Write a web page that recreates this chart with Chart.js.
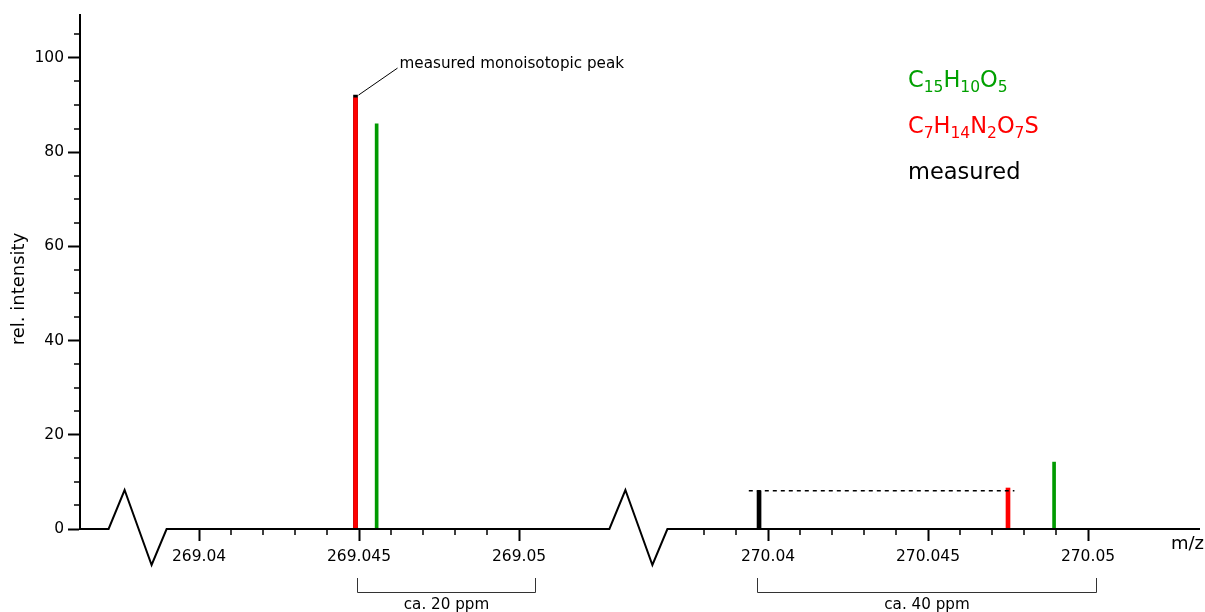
<!DOCTYPE html>
<html>
<head>
<meta charset="utf-8">
<script src="https://cdn.jsdelivr.net/npm/chart.js@4/dist/chart.umd.min.js"></script>
<style>
  body { margin: 0; background: #fff; }
  canvas { display: block; }
</style>
</head>
<body>
<canvas id="spectrum" width="1205" height="612"></canvas>
<script>
// peaks (m/z, relative intensity)
const measuredMz = [269.04489, 270.03972];
const measuredInt = [92.1, 8.1];
const redMz = [269.04489, 270.04750];   // C7H14N2O7S
const redInt = [91.5, 8.7];
const greenMz = [269.04555, 270.04894]; // C15H10O5
const greenInt = [86.0, 14.2];

// axis ticks
const xMajorMz = [269.04, 269.045, 269.05, 270.04, 270.045, 270.05];
const xTickLabels = ['269.04', '269.045', '269.05', '270.04', '270.045', '270.05'];
const xMinorMz = [269.041, 269.042, 269.043, 269.044, 269.046, 269.047, 269.048, 269.049,
  270.038, 270.039, 270.041, 270.042, 270.043, 270.044, 270.046, 270.047, 270.048, 270.049];
const yMajor = [0, 20, 40, 60, 80, 100];
const yMinor = [5, 10, 15, 25, 30, 35, 45, 50, 55, 65, 70, 75, 85, 90, 95, 105];

// annotations
const ppmBrackets = [
  { from: 269.04495, to: 269.0505, text: 'ca. 20 ppm' },
  { from: 270.03966, to: 270.05025, text: 'ca. 40 ppm' }
];
const dashedFrom = 270.0394, dashedTo = 270.0477;
const legendItems = [
  { text: 'C15H10O5', color: '#00a000' },
  { text: 'C7H14N2O7S', color: '#ff0000' },
  { text: 'measured', color: '#000000' }
];

// broken axis: both windows share one linear axis (units of 0.001 m/z)
function toV(mz) {
  return mz < 269.5 ? (mz - 269) * 1000 : (mz - 270) * 1000 + 17.78;
}
const breaksV = [38.08, 53.73];

Chart.defaults.font.family = 'DejaVu Sans';
Chart.defaults.color = '#000';

function pts(mz, vals) {
  return mz.map((m, i) => ({ x: toV(m), y: vals[i] }));
}

function drawFormula(ctx, str, x, y, color) {
  ctx.fillStyle = color;
  ctx.textAlign = 'left';
  ctx.textBaseline = 'alphabetic';
  const parts = str.match(/[A-Za-z]+|\d+/g);
  const isFormula = /\d/.test(str);
  let cx = x;
  parts.forEach(p => {
    if (isFormula && /^\d+$/.test(p)) {
      ctx.font = '15.5px "DejaVu Sans"';
      ctx.fillText(p, cx, y + 5);
    } else {
      ctx.font = '22.5px "DejaVu Sans"';
      ctx.fillText(p, cx, y);
    }
    cx += ctx.measureText(p).width;
  });
}

const extras = {
  id: 'extras',
  afterDraw(chart) {
    const ctx = chart.ctx;
    const xs = chart.scales.x, ys = chart.scales.y;
    const area = chart.chartArea;
    const y0 = ys.getPixelForValue(0);
    ctx.save();
    ctx.strokeStyle = '#000';
    ctx.lineWidth = 2;
    ctx.lineJoin = 'miter';

    // baseline with axis breaks
    ctx.beginPath();
    ctx.moveTo(area.left, y0);
    breaksV.forEach(b => {
      const c = xs.getPixelForValue(b);
      ctx.lineTo(c - 29, y0);
      ctx.lineTo(c - 13, y0 - 39);
      ctx.lineTo(c + 14, y0 + 36);
      ctx.lineTo(c + 29, y0);
    });
    ctx.lineTo(area.right, y0);
    ctx.stroke();

    // minor ticks
    ctx.lineWidth = 1.5;
    ctx.beginPath();
    xMinorMz.forEach(m => {
      const px = Math.round(xs.getPixelForValue(toV(m)));
      ctx.moveTo(px, y0);
      ctx.lineTo(px, y0 + 6);
    });
    yMinor.forEach(v => {
      const py = Math.round(ys.getPixelForValue(v));
      ctx.moveTo(area.left - 6, py);
      ctx.lineTo(area.left, py);
    });
    ctx.stroke();

    // dashed line at measured intensity
    const yd = ys.getPixelForValue(measuredInt[1]);
    ctx.lineWidth = 1.5;
    ctx.setLineDash([4, 4]);
    ctx.beginPath();
    ctx.moveTo(xs.getPixelForValue(toV(dashedFrom)), yd);
    ctx.lineTo(xs.getPixelForValue(toV(dashedTo)), yd);
    ctx.stroke();
    ctx.setLineDash([]);

    // monoisotopic peak pointer
    const mx = xs.getPixelForValue(toV(measuredMz[0]));
    const my = ys.getPixelForValue(measuredInt[0]);
    ctx.lineWidth = 1;
    ctx.beginPath();
    ctx.moveTo(mx + 3, my);
    ctx.lineTo(mx + 42, my - 27);
    ctx.stroke();
    ctx.fillStyle = '#000';
    ctx.font = '15.2px "DejaVu Sans"';
    ctx.textAlign = 'left';
    ctx.textBaseline = 'middle';
    ctx.fillText('measured monoisotopic peak', mx + 44, my - 31);

    // ppm brackets
    ctx.lineWidth = 1;
    ctx.strokeStyle = '#333';
    ppmBrackets.forEach(br => {
      const a = Math.round(xs.getPixelForValue(toV(br.from))) + 0.5;
      const b = Math.round(xs.getPixelForValue(toV(br.to))) + 0.5;
      ctx.beginPath();
      ctx.moveTo(a, y0 + 49);
      ctx.lineTo(a, y0 + 63.5);
      ctx.lineTo(b, y0 + 63.5);
      ctx.lineTo(b, y0 + 49);
      ctx.stroke();
      ctx.textAlign = 'center';
      ctx.textBaseline = 'middle';
      ctx.fillText(br.text, (a + b) / 2, y0 + 76);
    });

    // axis titles
    ctx.font = '18px "DejaVu Sans"';
    ctx.textAlign = 'right';
    ctx.textBaseline = 'alphabetic';
    ctx.fillText('m/z', 1204, y0 + 20);
    ctx.save();
    ctx.translate(24, 289);
    ctx.rotate(-Math.PI / 2);
    ctx.textAlign = 'center';
    ctx.fillText('rel. intensity', 0, 0);
    ctx.restore();

    // legend
    legendItems.forEach((it, i) => {
      drawFormula(ctx, it.text, 908, 87 + i * 46, it.color);
    });
    ctx.restore();
  }
};

new Chart(document.getElementById('spectrum'), {
  type: 'bar',
  data: {
    datasets: [
      { label: 'C7H14N2O7S', data: pts(redMz, redInt), backgroundColor: '#ff0000', barThickness: 4 },
      { label: 'C15H10O5', data: pts(greenMz, greenInt), backgroundColor: '#009a00', barThickness: 3 },
      { label: 'measured', data: pts(measuredMz, measuredInt), backgroundColor: '#000000', barThickness: 4 }
    ]
  },
  options: {
    responsive: false,
    animation: false,
    devicePixelRatio: 1,
    layout: { padding: { top: 15, right: 5, left: 0, bottom: 0 } },
    datasets: { bar: { grouped: false } },
    plugins: { legend: { display: false }, tooltip: { enabled: false } },
    scales: {
      x: {
        type: 'linear',
        offset: false,
        min: 36.28,
        max: 71.28,
        afterFit: s => { s.height = 83; },
        afterBuildTicks: s => { s.ticks = xMajorMz.map(m => ({ value: toV(m) })); },
        border: { display: false },
        grid: { offset: false, drawOnChartArea: false, tickLength: 12, tickWidth: 2, tickColor: '#000' },
        ticks: {
          autoSkip: false,
          maxRotation: 0,
          padding: 7,
          font: { size: 15.5 },
          callback: (v, i) => xTickLabels[i]
        }
      },
      y: {
        min: 0,
        max: 109.1,
        afterFit: s => { s.width = 80; },
        afterBuildTicks: s => { s.ticks = yMajor.map(v => ({ value: v })); },
        border: { display: true, color: '#000', width: 2 },
        grid: { drawOnChartArea: false, tickLength: 12, tickWidth: 2, tickColor: '#000' },
        ticks: { padding: 4, font: { size: 15.5 }, callback: v => String(v) }
      }
    }
  },
  plugins: [extras]
});
</script>
</body>
</html>
